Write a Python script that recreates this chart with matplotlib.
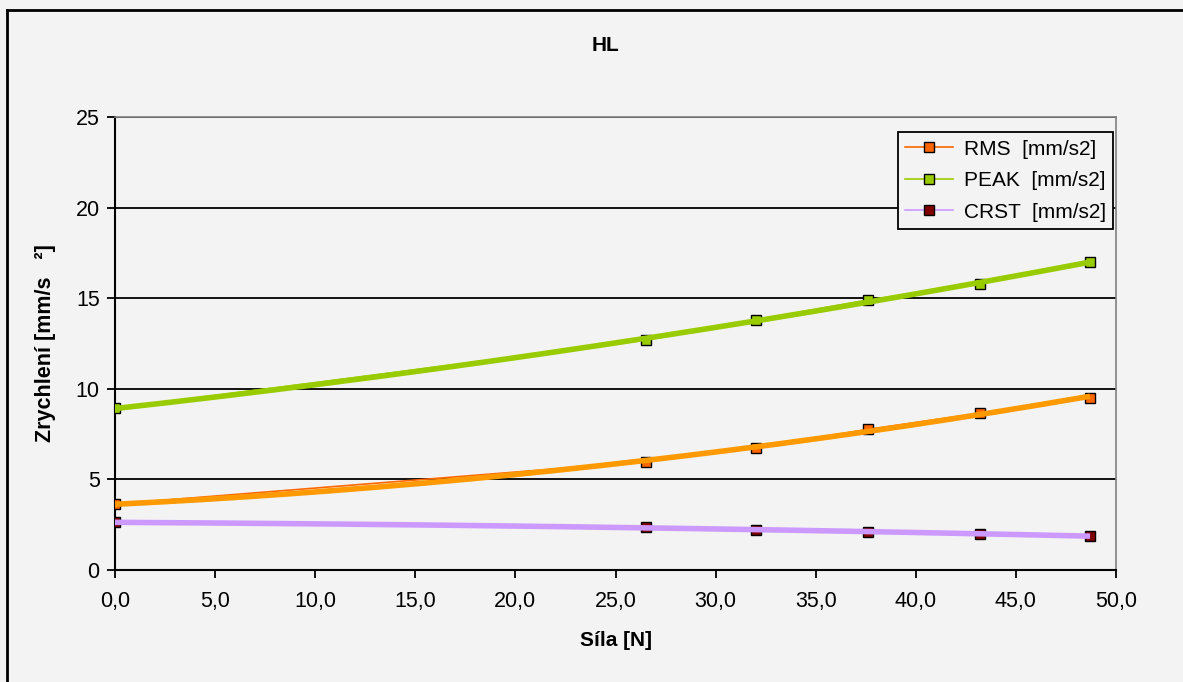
import numpy as np
import matplotlib
matplotlib.use("Agg")
import matplotlib.pyplot as plt
from matplotlib.ticker import FuncFormatter

plt.rcParams['font.family'] = ['Liberation Sans', 'DejaVu Sans']

sila = [0.0, 26.5, 32.0, 37.6, 43.2, 48.7]
rms = [3.64, 5.98, 6.75, 7.76, 8.65, 9.51]
peak = [8.92, 12.69, 13.8, 14.9, 15.78, 17.0]
crst = [2.63, 2.35, 2.21, 2.12, 1.99, 1.88]

labels = ["RMS  [mm/s2]", "PEAK  [mm/s2]", "CRST  [mm/s2]"]
marker_colors = ["#FF6600", "#99CC00", "#800000"]
line_colors = ["#FF6600", "#99CC00", "#CC99FF"]
trend_colors = ["#FF9900", "#99CC00", "#CC99FF"]

bg = "#F3F3F3"
fig = plt.figure(figsize=(11.83, 6.82), dpi=100, facecolor=bg)
ax = fig.add_axes([0.0972, 0.1642, 0.8462, 0.6642], facecolor=bg)

# outer chart border (only left/top visible in the picture)
fig.add_artist(plt.Line2D([0.0063, 0.0063], [0, 0.985], transform=fig.transFigure,
                          color="black", lw=2))
fig.add_artist(plt.Line2D([0.0063, 1.0], [0.985, 0.985], transform=fig.transFigure,
                          color="black", lw=2))

xs = np.array(sila)
xfine = np.linspace(xs.min(), xs.max(), 200)
handles = []
for ys, lab, mc, lc, tc in zip([rms, peak, crst], labels, marker_colors, line_colors, trend_colors):
    h, = ax.plot(sila, ys, color=lc, lw=1.2, marker="s", markersize=7,
                 markerfacecolor=mc, markeredgecolor="black", markeredgewidth=1,
                 label=lab, zorder=3)
    handles.append(h)
    # trendline (2nd order polynomial, as in the spreadsheet chart)
    coef = np.polyfit(xs, ys, 2)
    ax.plot(xfine, np.polyval(coef, xfine), color=tc, lw=4, zorder=4,
            solid_capstyle="butt")

ax.set_xlim(0, 50)
ax.set_ylim(0, 25)
ax.set_xticks(np.arange(0, 50.1, 5))
ax.set_yticks(np.arange(0, 26, 5))
ax.xaxis.set_major_formatter(FuncFormatter(lambda v, p: f"{v:.1f}".replace(".", ",")))
ax.yaxis.grid(True, color="black", lw=1.3)
ax.set_axisbelow(True)
for s in ["left", "bottom"]:
    ax.spines[s].set_color("black")
    ax.spines[s].set_linewidth(1.5)
for s in ["top", "right"]:
    ax.spines[s].set_color("#808080")
    ax.spines[s].set_linewidth(1.2)
ax.tick_params(axis="both", labelsize=15.5, length=6, width=1.3, direction="out",
               colors="black", pad=5)
ax.tick_params(axis="x", pad=9)

ax.set_xlabel("Síla [N]", fontsize=15, fontweight="bold", labelpad=14)
ax.set_ylabel("Zrychlení [mm/s   ²]", fontsize=15.5, fontweight="bold", labelpad=14)
fig.text(0.512, 0.933, "HL", fontsize=15, fontweight="bold", ha="center", va="center")

leg = ax.legend(handles=handles, loc="upper right", bbox_to_anchor=(0.997, 0.966),
                fontsize=15, frameon=True, fancybox=False, facecolor=bg,
                edgecolor="black", framealpha=1, handlelength=2.3, borderpad=0.35,
                labelspacing=0.6, handletextpad=0.5, borderaxespad=0)
leg.get_frame().set_linewidth(1.3)

fig.savefig("out.png", dpi=100, facecolor=bg)
